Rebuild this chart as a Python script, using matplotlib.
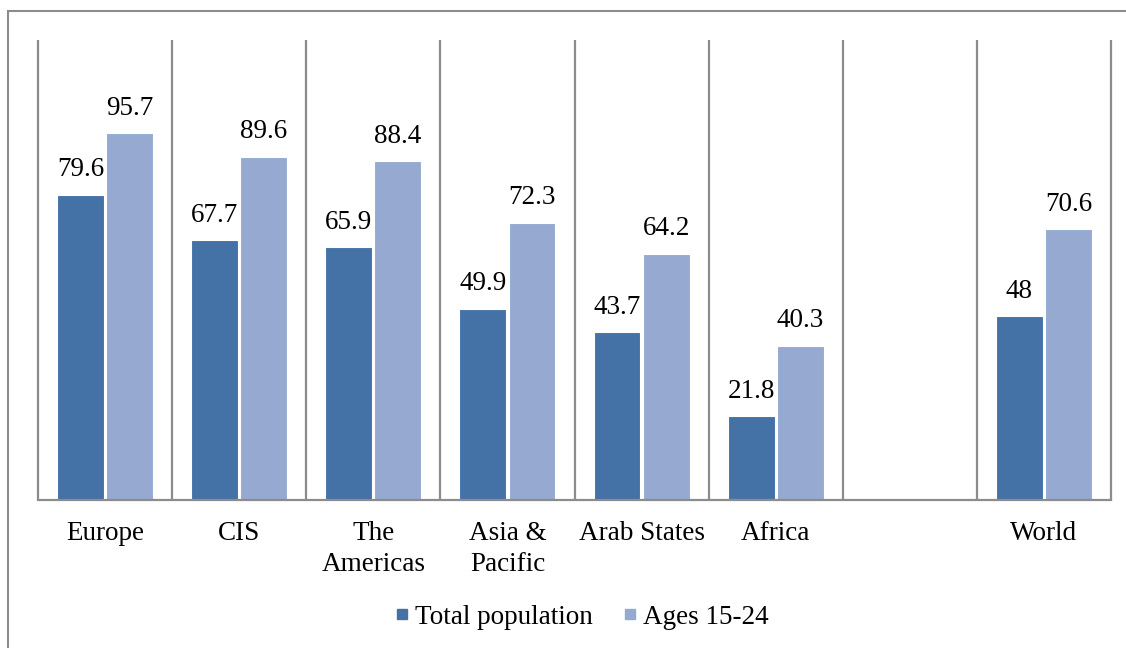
import matplotlib
matplotlib.use("Agg")
import matplotlib.pyplot as plt
import numpy as np
from matplotlib.patches import Rectangle
from matplotlib.lines import Line2D

categories = ["Europe", "CIS", "The\nAmericas", "Asia &\nPacific", "Arab States", "Africa", "", "World"]
total_population = [79.6, 67.7, 65.9, 49.9, 43.7, 21.8, np.nan, 48]
ages_15_24 = [95.7, 89.6, 88.4, 72.3, 64.2, 40.3, np.nan, 70.6]
series_names = ["Total population", "Ages 15-24"]

dark = "#4472A7"
light = "#95A9D1"
grid_gray = "#8C8C8C"

plt.rcParams["font.family"] = ["Liberation Serif", "DejaVu Serif"]
plt.rcParams["font.size"] = 19.5

fig = plt.figure(figsize=(11.26, 6.48), dpi=100)
ax = fig.add_axes([38/1126, 1 - 500/648, (1111-38)/1126, (500-40)/648])

x = np.arange(len(categories))
w = 0.35
off = 0.183
b1 = ax.bar(x - off, total_population, w, color=dark, edgecolor="white", linewidth=0.8)
b2 = ax.bar(x + off, ages_15_24, w, color=light, edgecolor="white", linewidth=0.8)

def fmt(v):
    if np.isnan(v):
        return ""
    return f"{v:g}"

ax.bar_label(b1, labels=[fmt(v) for v in total_population], padding=9)
ax.bar_label(b2, labels=[fmt(v) for v in ages_15_24], padding=9)

ax.set_xlim(-0.5, len(categories) - 0.5)
ax.set_ylim(0, 120)
ax.vlines(np.arange(len(categories) + 1) - 0.5, 0, 120, colors=grid_gray, linewidth=1.6, clip_on=False)

for s in ["top", "left", "right"]:
    ax.spines[s].set_visible(False)
ax.spines["bottom"].set_color(grid_gray)
ax.spines["bottom"].set_linewidth(1.6)
ax.set_yticks([])
ax.set_xticks(x)
ax.set_xticklabels(categories)
ax.tick_params(axis="x", length=0, pad=15)
for t in ax.get_xticklabels():
    t.set_linespacing(1.3)
    t.set_verticalalignment("top")

handles = [Line2D([], [], marker="s", linestyle="none", markersize=7.5, color=dark),
           Line2D([], [], marker="s", linestyle="none", markersize=7.5, color=light)]
fig.legend(handles, series_names, loc="center", bbox_to_anchor=(582/1126, 1 - 617/648),
           ncol=2, frameon=False, handlelength=0.5, handletextpad=0.25, columnspacing=1.1,
           fontsize=19.5)

fig.patches.append(Rectangle((8/1126, -0.01), 1.1, 1 - 11/648 + 0.01, transform=fig.transFigure,
                             fill=False, edgecolor=grid_gray, linewidth=1.5))

fig.savefig("out.png", dpi=100)
